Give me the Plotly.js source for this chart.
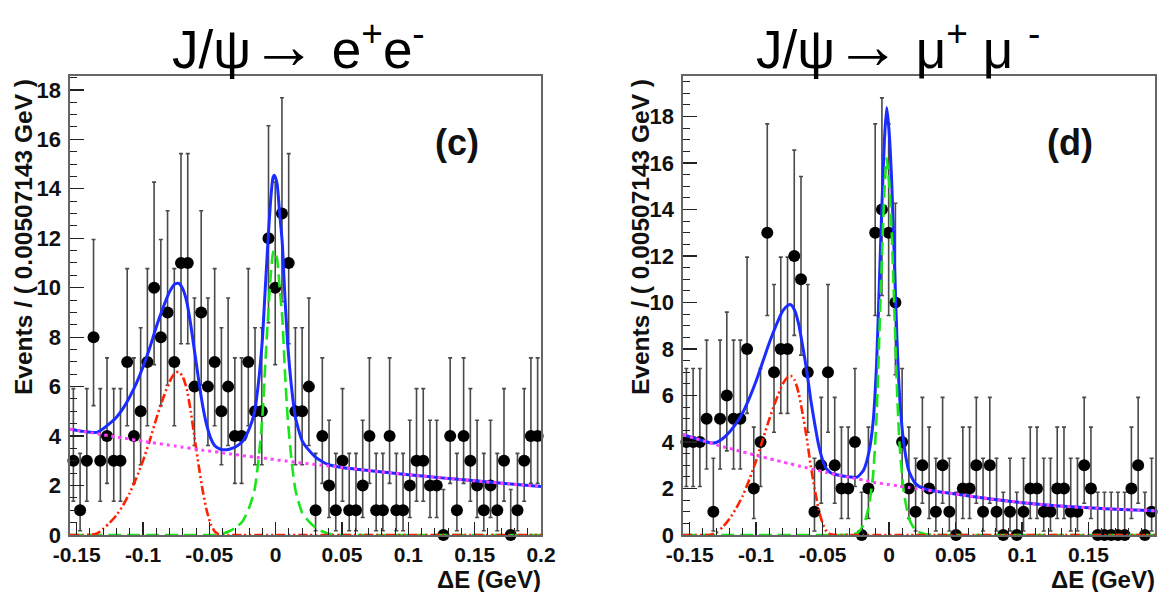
<!DOCTYPE html>
<html><head><meta charset="utf-8">
<script src="https://cdn.plot.ly/plotly-3.0.1.min.js"></script>
<style>html,body{margin:0;padding:0;background:#fff;} #chart{width:1166px;height:592px;}</style>
</head><body><div id="chart"></div>
<script>
// 70 bins of width 0.00507143 GeV between -0.155 and 0.2 (bin centres)
const binCenters = [-0.15246,-0.14739,-0.14232,-0.13725,-0.13218,-0.12711,-0.12204,-0.11696,-0.11189,-0.10682,
 -0.10175,-0.09668,-0.09161,-0.08654,-0.08146,-0.07639,-0.07132,-0.06625,-0.06118,-0.05611,
 -0.05104,-0.04596,-0.04089,-0.03582,-0.03075,-0.02568,-0.02061,-0.01554,-0.01046,-0.00539,
 -0.00032,0.00475,0.00982,0.01489,0.01996,0.02504,0.03011,0.03518,0.04025,0.04532,
 0.05039,0.05546,0.06054,0.06561,0.07068,0.07575,0.08082,0.08589,0.09096,0.09604,
 0.10111,0.10618,0.11125,0.11632,0.12139,0.12646,0.13154,0.13661,0.14168,0.14675,
 0.15182,0.15689,0.16196,0.16704,0.17211,0.17718,0.18225,0.18732,0.19239,0.19746];

// Events per bin, J/psi -> e+e-  (panel c)
const eeCounts = [3,1,3,8,3,4,3,3,7,4, 5,7,10,8,9,7,11,11,6,9, 6,7,5,6,4,4,7,5,5,12,
 10,13,11,5,5,6,1,4,2,1, 3,1,1,2,4,1,1,4,1,1, 2,3,3,2,2,0,4,1,4,3, 2,1,2,1,3,0,1,3,4,4];
// Events per bin, J/psi -> mu+mu-  (panel d)
const mumuCounts = [4,4,4,5,1,5,6,5,5,8, 2,4,13,7,8,8,12,11,7,1, 3,7,3,2,2,4,0,2,13,14,
 13,10,4,2,1,3,2,1,3,1, 0,2,2,3,1,3,1,0,1,0, 1,2,2,1,1,2,2,1,1,3, 2,0,0,0,0,0,2,3,0,1];

// 68.27% Poisson interval for counts 0..15
const poissonLow  = [0,0.173,0.708,1.367,2.086,2.840,3.620,4.419,5.232,6.057,6.891,7.734,8.585,9.441,10.30,11.17];
const poissonHigh = [1.841,3.300,4.638,5.918,7.163,8.382,9.584,10.77,11.95,13.11,14.27,15.42,16.55,17.68,18.80,19.92];

// Fit curves
const eeCurveX = [-0.155,-0.145,-0.135,-0.13,-0.125,-0.12,-0.115,-0.11,-0.105,-0.1,
 -0.095,-0.09,-0.085,-0.08,-0.076,-0.073,-0.07,-0.067,-0.064,-0.061,
 -0.058,-0.055,-0.052,-0.049,-0.046,-0.043,-0.04,-0.035,-0.03,-0.025,
 -0.02,-0.016,-0.013,-0.01,-0.008,-0.006,-0.004,-0.002,-0.001,0.001,
 0.003,0.005,0.007,0.009,0.012,0.015,0.02,0.025,0.03,0.035,
 0.04,0.05,0.075,0.1,0.125,0.15,0.175,0.2];
const eeTotal = [4.28,4.19,4.15,4.30,4.51,4.76,5.12,5.58,6.13,6.79,
 7.55,8.41,9.17,9.83,10.15,10.17,9.95,9.43,8.50,7.38,
 6.26,5.23,4.45,3.92,3.62,3.50,3.45,3.47,3.57,3.78,
 4.28,4.95,6.13,7.91,9.80,11.68,13.37,14.46,14.55,14.23,
 13.02,11.81,9.60,7.78,5.96,4.74,3.81,3.43,3.15,2.97,
 2.84,2.73,2.58,2.44,2.31,2.19,2.07,1.96];
const eePeaking = [0,0,0.05,0.25,0.5,0.8,1.2,1.7,2.3,3.0,
 3.8,4.7,5.5,6.2,6.55,6.6,6.4,5.9,5.0,3.9,
 2.8,1.8,1.0,0.45,0.15,0.03,0,0,0,0,
 0,0,0,0,0,0,0,0,0,0,
 0,0,0,0,0,0,0,0,0,0,
 0,0,0,0,0,0,0,0];
const eeSignal = [0,0,0,0,0,0,0,0,0,0,
 0,0,0,0,0,0,0,0,0,0,
 0,0,0,0,0,0.02,0.05,0.15,0.3,0.55,
 1.1,1.8,3.0,4.8,6.7,8.6,10.3,11.4,11.5,11.2,
 10.0,8.8,6.6,4.8,3.0,1.8,0.9,0.55,0.3,0.15,
 0.05,0,0,0,0,0,0,0];
const eeBackground = [4.28,4.19,4.10,4.05,4.01,3.96,3.92,3.88,3.83,3.79,
 3.75,3.71,3.67,3.63,3.60,3.57,3.55,3.53,3.50,3.48,
 3.46,3.43,3.41,3.39,3.37,3.35,3.32,3.29,3.25,3.21,
 3.18,3.15,3.13,3.11,3.10,3.08,3.07,3.06,3.05,3.03,
 3.02,3.01,3.00,2.98,2.96,2.94,2.91,2.88,2.85,2.82,
 2.79,2.73,2.58,2.44,2.31,2.19,2.07,1.96];

// Fit curves
const mmCurveX = [-0.155,-0.145,-0.135,-0.13,-0.125,-0.12,-0.115,-0.11,-0.105,-0.1,
 -0.095,-0.09,-0.085,-0.08,-0.076,-0.074,-0.071,-0.068,-0.065,-0.062,
 -0.059,-0.056,-0.053,-0.05,-0.047,-0.044,-0.04,-0.035,-0.03,-0.024,
 -0.019,-0.015,-0.012,-0.0095,-0.0075,-0.0055,-0.0035,-0.0018,0.0,0.002,
 0.004,0.006,0.008,0.011,0.015,0.02,0.026,0.035,0.05,0.075,
 0.1,0.125,0.15,0.175,0.2];
const mmTotal = [4.31,4.14,3.97,3.98,4.15,4.43,4.80,5.27,5.90,6.62,
 7.45,8.28,9.01,9.64,9.88,9.91,9.66,9.07,8.13,7.09,
 5.85,4.81,3.87,3.23,2.84,2.68,2.60,2.54,2.50,2.49,
 2.81,3.61,4.87,7.24,10.53,14.01,16.99,18.38,17.37,15.15,
 11.73,8.32,5.90,3.97,2.74,2.20,2.00,1.88,1.76,1.56,
 1.39,1.26,1.17,1.10,1.04];
const mmPeaking = [0,0,0,0.1,0.35,0.7,1.15,1.7,2.4,3.2,
 4.1,5.0,5.8,6.5,6.8,6.85,6.65,6.1,5.2,4.2,
 3.0,2.0,1.1,0.5,0.15,0.03,0,0,0,0,
 0,0,0,0,0,0,0,0,0,0,
 0,0,0,0,0,0,0,0,0,0,
 0,0,0,0,0];
const mmSignal = [0,0,0,0,0,0,0,0,0,0,
 0,0,0,0,0,0,0,0,0,0,
 0,0,0,0,0,0,0,0,0.02,0.08,
 0.45,1.3,2.6,5.0,8.3,11.8,14.8,16.2,15.2,13.0,
 9.6,6.2,3.8,1.9,0.7,0.2,0.05,0,0,0,
 0,0,0,0,0];
const mmBackground = [4.31,4.14,3.97,3.88,3.80,3.73,3.65,3.57,3.50,3.42,
 3.35,3.28,3.21,3.14,3.08,3.06,3.01,2.97,2.93,2.89,
 2.85,2.81,2.77,2.73,2.69,2.65,2.60,2.54,2.48,2.41,
 2.36,2.31,2.27,2.24,2.23,2.21,2.19,2.18,2.17,2.15,
 2.13,2.12,2.10,2.07,2.04,2.00,1.95,1.88,1.76,1.56,
 1.39,1.26,1.17,1.10,1.04];

const xTickVals = [-0.15,-0.1,-0.05,0,0.05,0.1,0.15,0.2];
const xTickText = ['-0.15','-0.1','-0.05','0','0.05','0.1','0.15','0.2'];
const yTickVals = [0,2,4,6,8,10,12,14,16,18];

const FONT = 'Liberation Sans, Arial, Helvetica, sans-serif';

function dataTrace(counts, xa, ya) {
  return {
    type: 'scatter', mode: 'markers', x: binCenters, y: counts, xaxis: xa, yaxis: ya,
    cliponaxis: false, showlegend: false,
    marker: {color: '#000', size: 12},
    error_y: {type: 'data', symmetric: false,
      array: counts.map(n => poissonHigh[n] - n),
      arrayminus: counts.map(n => n - poissonLow[n]),
      color: '#4a4a4a', thickness: 1.6, width: 2}
  };
}
function curve(x, y, xa, ya, color, width, dash) {
  return {type: 'scatter', mode: 'lines', x: x, y: y, xaxis: xa, yaxis: ya,
    cliponaxis: false, showlegend: false,
    line: {color: color, width: width, dash: dash, shape: 'spline', smoothing: 0.6}};
}

const BLUE = '#1a2cff', RED = '#ff2200', GREEN = '#19e619', MAGENTA = '#ff44ff';
const RED_DASH = '9px,3px,2px,3px,2px,3px';
const GREEN_DASH = '13px,6px';
const MAG_DASH = '3px,4px';

const traces = [
  dataTrace(eeCounts, 'x', 'y'),
  curve(eeCurveX, eeTotal, 'x', 'y', BLUE, 3, 'solid'),
  curve(eeCurveX, eeSignal, 'x', 'y', GREEN, 2.6, GREEN_DASH),
  curve(eeCurveX, eePeaking, 'x', 'y', RED, 2.6, RED_DASH),
  curve(eeCurveX, eeBackground, 'x', 'y', MAGENTA, 3, MAG_DASH),
  dataTrace(mumuCounts, 'x2', 'y2'),
  curve(mmCurveX, mmTotal, 'x2', 'y2', BLUE, 3, 'solid'),
  curve(mmCurveX, mmSignal, 'x2', 'y2', GREEN, 2.6, GREEN_DASH),
  curve(mmCurveX, mmPeaking, 'x2', 'y2', RED, 2.6, RED_DASH),
  curve(mmCurveX, mmBackground, 'x2', 'y2', MAGENTA, 3, MAG_DASH)
];

function xAxis(domain, anchor) {
  return {domain: domain, anchor: anchor, range: [-0.155, 0.2],
    tickmode: 'array', tickvals: xTickVals, ticktext: xTickText,
    ticks: 'inside', ticklen: 13, tickwidth: 1.3, tickcolor: '#222',
    minor: {tickmode: 'linear', tick0: -0.15, dtick: 0.01, ticks: 'inside', ticklen: 7, tickwidth: 1, tickcolor: '#222'},
    showline: true, mirror: true, linecolor: '#666', linewidth: 1.6,
    showgrid: false, zeroline: false, fixedrange: true,
    tickfont: {family: FONT, size: 21, weight: 700, color: '#111'}};
}
function yAxis(domain, anchor, ymax) {
  return {domain: domain, anchor: anchor, range: [0, ymax],
    tickmode: 'array', tickvals: yTickVals,
    ticks: 'inside', ticklen: 14, tickwidth: 1.3, tickcolor: '#222',
    minor: {tickmode: 'linear', tick0: 0, dtick: 0.5, ticks: 'inside', ticklen: 7, tickwidth: 1, tickcolor: '#222'},
    showline: true, mirror: true, linecolor: '#666', linewidth: 1.6,
    showgrid: false, zeroline: false, fixedrange: true, ticklabelstandoff: 3,
    tickfont: {family: FONT, size: 22, weight: 700, color: '#111'}};
}

const W = 1166, H = 592;
const px = v => v / W, py = v => 1 - v / H;
const yDom = [py(535), py(76)];
const ARROW = '<span style="font-size:66px">→</span>';

const layout = {
  width: W, height: H, margin: {l: 0, r: 0, t: 0, b: 0},
  paper_bgcolor: '#fff', plot_bgcolor: '#fff', showlegend: false,
  xaxis: xAxis([px(70), px(541)], 'y'),
  yaxis: yAxis(yDom, 'x', 18.56),
  xaxis2: xAxis([px(683), px(1155)], 'y2'),
  yaxis2: yAxis(yDom, 'x2', 19.74),
  annotations: [
    {text: 'J/ψ' + ARROW + ' e<sup>+</sup>e<sup>-</sup>', xref: 'paper', yref: 'paper', x: px(298), y: py(45),
     xanchor: 'center', yanchor: 'middle', showarrow: false, font: {family: FONT, size: 53, color: '#000'}},
    {text: 'J/ψ' + ARROW + ' μ<sup>+</sup> μ <sup>-</sup>', xref: 'paper', yref: 'paper', x: px(898), y: py(45),
     xanchor: 'center', yanchor: 'middle', showarrow: false, font: {family: FONT, size: 53, color: '#000'}},
    {text: '(c)', xref: 'paper', yref: 'paper', x: px(457), y: py(142), xanchor: 'center', yanchor: 'middle',
     showarrow: false, font: {family: FONT, size: 36, weight: 700, color: '#111'}},
    {text: '(d)', xref: 'paper', yref: 'paper', x: px(1070), y: py(142), xanchor: 'center', yanchor: 'middle',
     showarrow: false, font: {family: FONT, size: 36, weight: 700, color: '#111'}},
    {text: 'Events / ( 0.00507143 GeV )', xref: 'paper', yref: 'paper', x: px(23), y: py(237), textangle: -90,
     xanchor: 'center', yanchor: 'middle', showarrow: false, font: {family: FONT, size: 24.5, weight: 700, color: '#111'}},
    {text: 'Events / ( 0.00507143 GeV )', xref: 'paper', yref: 'paper', x: px(640), y: py(237), textangle: -90,
     xanchor: 'center', yanchor: 'middle', showarrow: false, font: {family: FONT, size: 24.5, weight: 700, color: '#111'}},
    {text: 'ΔE (GeV)', xref: 'paper', yref: 'paper', x: px(543), y: py(579), xanchor: 'right', yanchor: 'middle',
     showarrow: false, font: {family: FONT, size: 24, weight: 700, color: '#111'}},
    {text: 'ΔE (GeV)', xref: 'paper', yref: 'paper', x: px(1157), y: py(579), xanchor: 'right', yanchor: 'middle',
     showarrow: false, font: {family: FONT, size: 24, weight: 700, color: '#111'}}
  ]
};

Plotly.newPlot('chart', traces, layout, {displayModeBar: false, staticPlot: true});
</script>
</body></html>
